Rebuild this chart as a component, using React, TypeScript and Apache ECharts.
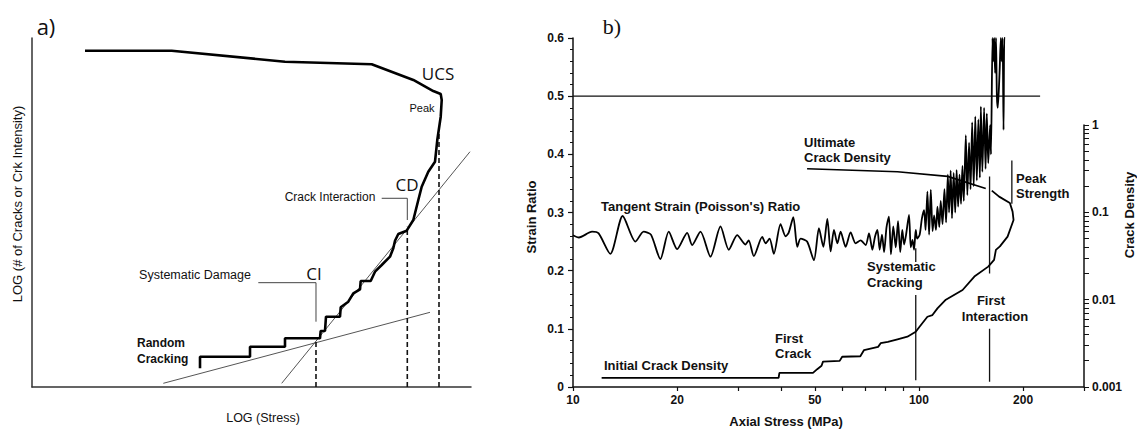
import React, { useEffect, useRef } from "react";
import * as echarts from "echarts";

const SANS = "'Liberation Sans', Arial, Helvetica, sans-serif";
const INK = "#111";

// ---------- Panel a (schematic, arbitrary 0-100 units) ----------
const A_CURVE: [number, number][] = [
  [38.27, 5.36], [38.27, 8.68], [49.66, 8.68], [49.66, 11.55], [57.63, 11.55], [57.63, 13.95],
  [65.6, 13.95], [65.76, 16.05], [66.74, 16.05], [66.97, 20.14], [70.16, 20.14], [70.32, 22.84],
  [72.05, 24.44], [73.19, 26.85], [74.72, 27.99], [74.87, 30.37], [77.15, 30.37], [78.13, 33.04],
  [79.66, 34.96], [81.55, 37.34], [82.3, 39.74], [82.69, 41.92], [83.44, 43.84], [85.35, 44.79],
  [86.86, 47.85], [88.0, 53.58], [88.77, 57.39], [90.27, 61.69], [91.8, 64.56], [92.32, 70.77],
  [93.1, 77.45], [93.33, 82.23], [93.1, 83.95], [91.41, 84.81], [86.86, 87.97], [77.38, 92.46],
  [57.63, 93.21], [31.82, 96.36], [12.07, 96.36],
];
const A_TANGENT_LOW: [number, number][] = [[29.91, 1.06], [90.66, 21.4]];
const A_TANGENT_HIGH: [number, number][] = [[56.88, 1.06], [99.77, 67.42]];
// [x, top] of dashed threshold lines (CI, CD, UCS)
const A_THRESHOLDS: [number, number][] = [[64.69, 13.47], [85.49, 45.93], [92.71, 73.15]];
const A_LEADER_CD: [number, number][] = [[79.66, 54.07], [85.49, 54.07], [85.49, 47.85]];
const A_LEADER_CI: [number, number][] = [[51.55, 29.89], [64.69, 29.89], [64.69, 18.71]];

// ---------- Panel b ----------
const STRESS_TICKS = [10, 20, 30, 40, 50, 60, 70, 80, 90, 100, 200, 300];
const STRESS_LABELS = [10, 20, 50, 100, 200];
const CD_LABELS = [0.001, 0.01, 0.1, 1];
const CD_TICKS = [
  0.001, 0.002, 0.003, 0.004, 0.005, 0.006, 0.007, 0.008, 0.009,
  0.01, 0.02, 0.03, 0.04, 0.05, 0.06, 0.07, 0.08, 0.09,
  0.1, 0.2, 0.3, 0.4, 0.5, 0.6, 0.7, 0.8, 0.9, 1,
];

// [axial stress MPa, tangent strain ratio]
const STRAIN_RATIO: [number, number][] = [
  [10.0, 0.261], [10.4, 0.257], [11.35, 0.267], [11.86, 0.264], [12.82, 0.229], [13.92, 0.294],
  [15.15, 0.25], [16.0, 0.267], [16.8, 0.262], [17.89, 0.22], [18.91, 0.267], [20.0, 0.237],
  [21.38, 0.265], [22.1, 0.244], [23.36, 0.267], [24.97, 0.224], [26.69, 0.276], [28.2, 0.236],
  [29.83, 0.261], [31.5, 0.245], [32.2, 0.252], [33.32, 0.225], [35.24, 0.258], [36.03, 0.247],
  [37.0, 0.255], [38.07, 0.229], [39.81, 0.28], [41.16, 0.259], [42.0, 0.265], [43.34, 0.292],
  [44.5, 0.241], [45.5, 0.255], [47.5, 0.25], [49.71, 0.218], [51.39, 0.273], [52.92, 0.241],
  [54.35, 0.289], [55.56, 0.233], [56.8, 0.27], [58.1, 0.247], [59.37, 0.267], [61.38, 0.241],
  [63.46, 0.266], [65.62, 0.247], [67.85, 0.252], [70.15, 0.244], [71.72, 0.264], [73.36, 0.236],
  [74.6, 0.258], [75.85, 0.27], [77.0, 0.236], [78.2, 0.262], [79.3, 0.232], [80.6, 0.275],
  [81.9, 0.293], [83.0, 0.228], [84.3, 0.276], [85.7, 0.24], [87.0, 0.285], [88.3, 0.232],
  [89.5, 0.27], [90.6, 0.245], [91.8, 0.262], [93.6, 0.296], [94.7, 0.24], [95.8, 0.253],
  [96.8, 0.236], [97.9, 0.27], [98.8, 0.255], [100.5, 0.262], [102.0, 0.29], [103.5, 0.304],
  [104.5, 0.27], [105.8, 0.336], [107.0, 0.262], [108.2, 0.339], [109.5, 0.268], [110.6, 0.295],
  [112.0, 0.27], [113.1, 0.31], [114.5, 0.275], [115.6, 0.32], [117.0, 0.28], [118.5, 0.34],
  [119.8, 0.283], [121.2, 0.365], [122.2, 0.3], [123.5, 0.372], [124.6, 0.29], [126.0, 0.368],
  [127.3, 0.3], [128.5, 0.373], [129.8, 0.31], [131.0, 0.365], [132.3, 0.315], [133.6, 0.38],
  [134.8, 0.32], [136.6, 0.433], [138.0, 0.33], [139.6, 0.42], [141.0, 0.34], [142.5, 0.455],
  [144.0, 0.345], [145.5, 0.465], [147.0, 0.355], [148.5, 0.46], [150.0, 0.36], [151.0, 0.482],
  [152.5, 0.37], [154.3, 0.48], [155.8, 0.375], [157.1, 0.47], [158.6, 0.385], [160.6, 0.45],
  [161.5, 0.4], [163.2, 0.6], [164.0, 0.56], [165.0, 0.6], [166.0, 0.54], [167.0, 0.6],
  [168.0, 0.5], [169.0, 0.48], [171.0, 0.54], [172.5, 0.6], [173.5, 0.56], [174.5, 0.6],
  [175.6, 0.442], [176.5, 0.6], [177.5, 0.6],
];

// [axial stress MPa, crack density]
const CRACK_DENSITY: [number, number][] = [
  [12.1, 0.00127], [39.3, 0.00127], [39.5, 0.00145], [49.4, 0.00145], [50.8, 0.0016], [52.3, 0.00175],
  [52.8, 0.00195], [59.0, 0.00199], [60.0, 0.00222], [67.7, 0.00225], [69.4, 0.00265], [76.2, 0.00288],
  [77.5, 0.00317], [81.3, 0.00329], [86.7, 0.00352], [92.6, 0.00377], [97.9, 0.0043], [100.4, 0.0049],
  [105.8, 0.00637], [109.4, 0.00667], [113.1, 0.00795], [119.6, 0.01], [133.7, 0.0129], [144.6, 0.0184],
  [158.6, 0.0239], [164.9, 0.0286], [166.9, 0.0371], [171.4, 0.0407], [180.4, 0.0527], [187.7, 0.0818],
  [186.5, 0.1019], [183.2, 0.128], [170.5, 0.1514], [162.4, 0.1773],
];
const ULTIMATE_CD: [number, number][] = [[47.5, 0.316], [86.7, 0.292], [121, 0.258], [156, 0.187]];
const POISSON_LIMIT: [number, number][] = [[10, 0.5], [224, 0.5]];
// [stress MPa, ratio from, ratio to] for vertical stage markers
const STAGE_MARKERS: [number, number, number][] = [
  [97.9, 0.2386, 0.215], [97.9, 0.158, 0.0115],
  [160, 0.362, 0.195], [160, 0.1, 0.009],
  [185.6, 0.3895, 0.315],
];

const lg = (v: number) => Math.log10(v);
const toLog = (arr: [number, number][]) => arr.map(([x, y]) => [lg(x), lg(y)]);
const toLogX = (arr: [number, number][]) => arr.map(([x, y]) => [lg(x), y]);

const line = (data: any[], xi: number, width: number, color = "#000", extra: any = {}) => ({
  type: "line",
  xAxisIndex: xi,
  yAxisIndex: xi,
  data,
  showSymbol: false,
  symbol: "none",
  silent: true,
  lineStyle: { color, width, ...(extra.lineStyle || {}) },
  ...Object.fromEntries(Object.entries(extra).filter(([k]) => k !== "lineStyle")),
});

const txt = (text: string, x: number, y: number, font: string, align = "left", rot = 0) => ({
  type: "text",
  x,
  y,
  rotation: rot,
  silent: true,
  style: { text, fill: INK, font, align, verticalAlign: "middle", textAlign: align, textVerticalAlign: "middle" },
});

const plainAxis = (grid: number) => ({
  gridIndex: grid,
  type: "value",
  min: 0,
  max: 100,
  axisLine: { show: true, onZero: false, lineStyle: { color: "#333", width: 1.5 } },
  axisTick: { show: false },
  axisLabel: { show: false },
  splitLine: { show: false },
});

const labelStyle = { color: INK, fontFamily: SANS, fontWeight: "bold", fontSize: 12 };

const option: any = {
  animation: false,
  backgroundColor: "#fff",
  grid: [
    { left: 32, top: 38, width: 439, height: 349 },
    { left: 573, top: 38, width: 511, height: 349 },
    { left: 573, top: 125, width: 511, height: 262 },
  ],
  xAxis: [
    plainAxis(0),
    {
      gridIndex: 1,
      type: "value",
      min: 1,
      max: lg(300),
      axisLine: { show: true, onZero: false, lineStyle: { color: INK, width: 1.5 } },
      axisTick: { show: true, customValues: STRESS_TICKS.map(lg), length: 4, lineStyle: { color: INK, width: 1.2 } },
      axisLabel: {
        ...labelStyle,
        customValues: STRESS_LABELS.map(lg),
        formatter: (v: number) => String(Math.round(Math.pow(10, v))),
        margin: 7,
      },
      splitLine: { show: false },
    },
    { gridIndex: 2, type: "value", min: 1, max: lg(300), show: false },
  ],
  yAxis: [
    plainAxis(0),
    {
      gridIndex: 1,
      type: "value",
      min: 0,
      max: 0.6,
      interval: 0.1,
      axisLine: { show: true, onZero: false, lineStyle: { color: INK, width: 1.5 } },
      axisTick: { show: true, length: 5, lineStyle: { color: INK, width: 1.2 } },
      minorTick: { show: true, splitNumber: 5, length: 3, lineStyle: { color: INK, width: 1 } },
      axisLabel: { ...labelStyle, margin: 9, formatter: (v: number) => (v === 0 ? "0" : v.toFixed(1)) },
      splitLine: { show: false },
    },
    {
      gridIndex: 2,
      type: "value",
      position: "right",
      min: -3,
      max: 0,
      axisLine: { show: true, onZero: false, lineStyle: { color: INK, width: 1.5 } },
      axisTick: { show: true, customValues: CD_TICKS.map(lg), length: 5, lineStyle: { color: INK, width: 1 } },
      axisLabel: {
        ...labelStyle,
        margin: 8,
        customValues: CD_LABELS.map(lg),
        formatter: (v: number) => {
          const m = CD_LABELS.find((l) => Math.abs(lg(l) - v) < 1e-6);
          return m === undefined ? "" : String(m);
        },
      },
      splitLine: { show: false },
    },
  ],
  series: [
    // panel a
    line(A_TANGENT_LOW, 0, 1, "#555"),
    line(A_TANGENT_HIGH, 0, 1, "#555"),
    ...A_THRESHOLDS.map(([x, top]) =>
      line([[x, 0], [x, top]], 0, 1.6, "#111", { lineStyle: { type: [5, 3] } })
    ),
    line(A_LEADER_CD, 0, 1, "#444"),
    line(A_LEADER_CI, 0, 1, "#444"),
    line(A_CURVE, 0, 2.6, "#000"),
    // panel b
    line(toLogX(POISSON_LIMIT), 1, 1.3, "#111"),
    ...STAGE_MARKERS.map(([x, a, b]) => line([[lg(x), a], [lg(x), b]], 1, 1.3, "#111")),
    line(toLogX(STRAIN_RATIO), 1, 1.8, "#000", { smooth: 0.25 }),
    line(toLog(CRACK_DENSITY), 2, 1.8, "#000"),
    line(toLog(ULTIMATE_CD), 2, 1.6, "#000"),
  ],
  graphic: [
    // panel a labels
    txt("a)", 46, 26, "22px 'Open Sans', sans-serif", "center"),
    txt("UCS", 438, 73, "17px 'Open Sans', sans-serif", "center"),
    txt("Peak", 422, 108, `11px ${SANS}`, "center"),
    txt("CD", 407, 184, "17px 'Open Sans', sans-serif", "center"),
    txt("Crack Interaction", 330, 197, `12px ${SANS}`, "center"),
    txt("CI", 314, 273, "17px 'Open Sans', sans-serif", "center"),
    txt("Systematic Damage", 195, 275, `12.5px ${SANS}`, "center"),
    txt("Random", 137, 343, `bold 12px ${SANS}`),
    txt("Cracking", 137, 358.5, `bold 12px ${SANS}`),
    txt("LOG (# of Cracks or Crk Intensity)", 17, 204, `13px ${SANS}`, "center", Math.PI / 2),
    txt("LOG (Stress)", 263, 418, `12.5px ${SANS}`, "center"),
    // panel b labels
    txt("b)", 612, 26, "22px 'Liberation Serif', serif", "center"),
    txt("Tangent Strain (Poisson's) Ratio", 601, 206, `bold 13px ${SANS}`),
    txt("Ultimate", 804, 142, `bold 13px ${SANS}`),
    txt("Crack Density", 804, 157, `bold 13px ${SANS}`),
    txt("Peak", 1016, 178, `bold 13px ${SANS}`),
    txt("Strength", 1016, 193.5, `bold 13px ${SANS}`),
    txt("Systematic", 867, 266, `bold 13px ${SANS}`),
    txt("Cracking", 867, 282, `bold 13px ${SANS}`),
    txt("First", 991, 300, `bold 13px ${SANS}`, "center"),
    txt("Interaction", 995, 316, `bold 13px ${SANS}`, "center"),
    txt("First", 775, 338, `bold 13px ${SANS}`),
    txt("Crack", 775, 353.5, `bold 13px ${SANS}`),
    txt("Initial Crack Density", 604, 365.5, `bold 13px ${SANS}`),
    txt("Strain Ratio", 531, 217, `bold 13px ${SANS}`, "center", Math.PI / 2),
    txt("Crack Density", 1129, 215, `bold 13px ${SANS}`, "center", Math.PI / 2),
    txt("Axial Stress (MPa)", 786, 421, `bold 13px ${SANS}`, "center"),
  ],
};

export default function App() {
  const ref = useRef<HTMLDivElement>(null);
  useEffect(() => {
    if (!ref.current) return;
    const chart = echarts.init(ref.current, undefined, { renderer: "svg" });
    chart.setOption(option);
    return () => chart.dispose();
  }, []);
  return (
    <div
      ref={ref}
      style={{ position: "fixed", left: 0, top: 0, width: 1137, height: 430, background: "#fff" }}
    />
  );
}
